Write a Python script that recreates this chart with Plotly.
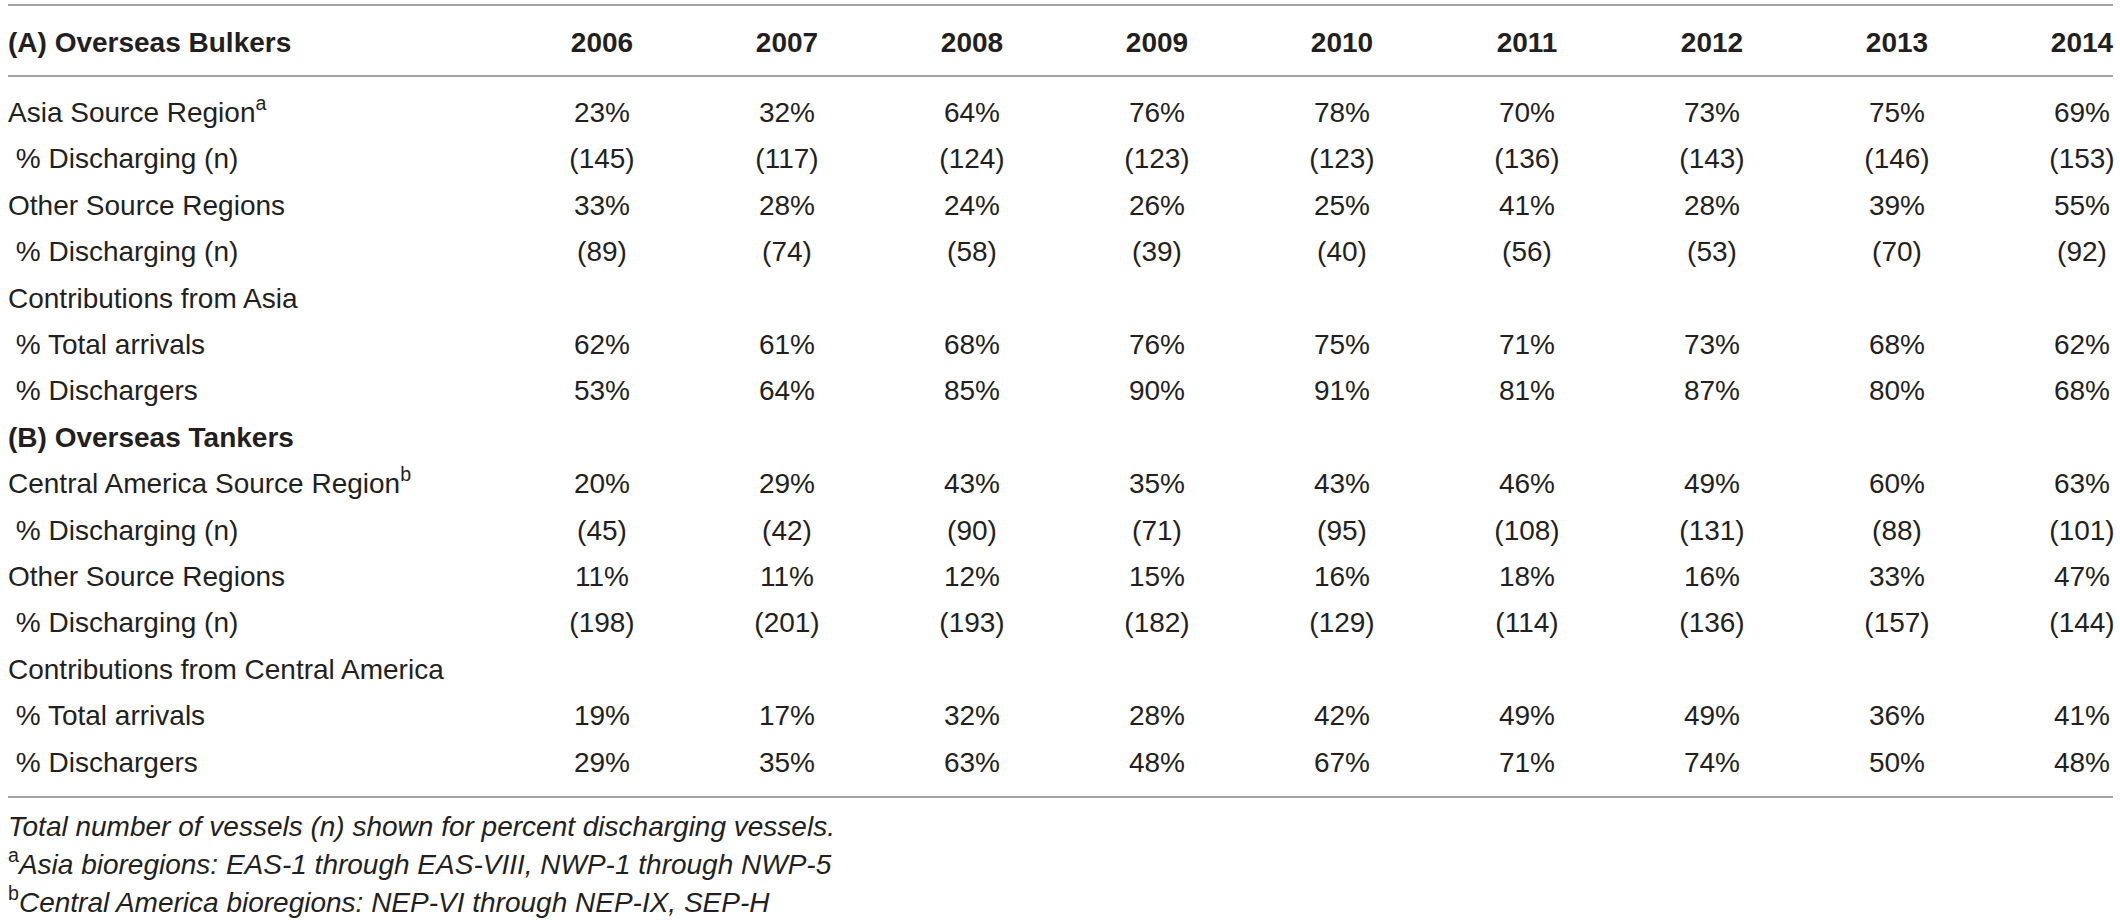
#!/usr/bin/env python3

"""plot.py: ballast discharge table for overseas bulkers and tankers, 2006-2014."""

import plotly.graph_objects as go

years = [2006, 2007, 2008, 2009, 2010, 2011, 2012, 2013, 2014]

# (A) Overseas Bulkers
asia_discharging_pct = [23, 32, 64, 76, 78, 70, 73, 75, 69]
asia_n = [145, 117, 124, 123, 123, 136, 143, 146, 153]
bulker_other_discharging_pct = [33, 28, 24, 26, 25, 41, 28, 39, 55]
bulker_other_n = [89, 74, 58, 39, 40, 56, 53, 70, 92]
asia_total_arrivals_pct = [62, 61, 68, 76, 75, 71, 73, 68, 62]
asia_dischargers_pct = [53, 64, 85, 90, 91, 81, 87, 80, 68]

# (B) Overseas Tankers
camerica_discharging_pct = [20, 29, 43, 35, 43, 46, 49, 60, 63]
camerica_n = [45, 42, 90, 71, 95, 108, 131, 88, 101]
tanker_other_discharging_pct = [11, 11, 12, 15, 16, 18, 16, 33, 47]
tanker_other_n = [198, 201, 193, 182, 129, 114, 136, 157, 144]
camerica_total_arrivals_pct = [19, 17, 32, 28, 42, 49, 49, 36, 41]
camerica_dischargers_pct = [29, 35, 63, 48, 67, 71, 74, 50, 48]

first_header = "(A) Overseas Bulkers"
row_labels = [
    "Asia Source Region<sup>a</sup>",
    "\u00a0% Discharging (n)",
    "Other Source Regions",
    "\u00a0% Discharging (n)",
    "Contributions from Asia",
    "\u00a0% Total arrivals",
    "\u00a0% Dischargers",
    "<b>(B) Overseas Tankers</b>",
    "Central America Source Region<sup>b</sup>",
    "\u00a0% Discharging (n)",
    "Other Source Regions",
    "\u00a0% Discharging (n)",
    "Contributions from Central America",
    "\u00a0% Total arrivals",
    "\u00a0% Dischargers",
]
footnotes = [
    "<i>Total number of vessels (n) shown for percent discharging vessels.</i>",
    "<sup>a</sup><i>Asia bioregions: EAS-1 through EAS-VIII, NWP-1 through NWP-5</i>",
    "<sup>b</sup><i>Central America bioregions: NEP-VI through NEP-IX, SEP-H</i>",
]


def pct(vals):
    return ["%d%%" % v for v in vals]


def count(vals):
    return ["(%d)" % v for v in vals]


row_cells = [
    pct(asia_discharging_pct),
    count(asia_n),
    pct(bulker_other_discharging_pct),
    count(bulker_other_n),
    None,
    pct(asia_total_arrivals_pct),
    pct(asia_dischargers_pct),
    None,
    pct(camerica_discharging_pct),
    count(camerica_n),
    pct(tanker_other_discharging_pct),
    count(tanker_other_n),
    None,
    pct(camerica_total_arrivals_pct),
    pct(camerica_dischargers_pct),
]

# page geometry (pixels): column centres, row pitch, rules
W, H = 2120, 920
col0_px, col_step = 602, 185
row0_px, row_step = 115, 46.4
label_px = 8
header_px = 45


def xv(px):
    return (px - col0_px) / col_step


def yv(px):
    return (px - row0_px) / row_step


ink = "#231f20"
rule = "#a3a3a3"
font = "Liberation Sans, Arial, sans-serif"
fs = 28

cell_x, cell_y, cell_t = [], [], []
for r, cells in enumerate(row_cells):
    if cells is None:
        continue
    for k, t in enumerate(cells):
        cell_x.append(k)
        cell_y.append(r)
        cell_t.append(t)

fig = go.Figure()

# year header
fig.add_trace(go.Scatter(
    x=list(range(len(years))), y=[yv(header_px)] * len(years),
    text=["<b>%d</b>" % y for y in years], mode="text",
    textposition="middle center",
    textfont=dict(family=font, size=fs, color=ink),
    hoverinfo="skip", showlegend=False))

fig.add_trace(go.Scatter(
    x=[xv(label_px)], y=[yv(header_px)],
    text=["<b>%s</b>" % first_header], mode="text",
    textposition="middle right",
    textfont=dict(family=font, size=fs, color=ink),
    hoverinfo="skip", showlegend=False))

# row labels
fig.add_trace(go.Scatter(
    x=[xv(label_px)] * len(row_labels), y=list(range(len(row_labels))),
    text=row_labels, mode="text", textposition="middle right",
    textfont=dict(family=font, size=fs, color=ink),
    hoverinfo="skip", showlegend=False))

# values
fig.add_trace(go.Scatter(
    x=cell_x, y=cell_y, text=cell_t, mode="text",
    textposition="middle center",
    textfont=dict(family=font, size=fs, color=ink),
    hoverinfo="skip", showlegend=False))

# footnotes
foot_px = [829, 867, 905]
fig.add_trace(go.Scatter(
    x=[xv(label_px)] * len(footnotes), y=[yv(p) for p in foot_px],
    text=footnotes, mode="text", textposition="middle right",
    textfont=dict(family=font, size=fs, color=ink),
    hoverinfo="skip", showlegend=False))

for p in [5, 76, 797]:
    fig.add_shape(type="line", xref="paper", yref="paper",
                  x0=label_px / W, x1=2113 / W,
                  y0=1 - p / H, y1=1 - p / H,
                  line=dict(color=rule, width=2))

fig.update_layout(
    width=W, height=H,
    margin=dict(l=0, r=0, t=0, b=0),
    paper_bgcolor="white", plot_bgcolor="white",
    xaxis=dict(range=[xv(0), xv(W)], visible=False, fixedrange=True),
    yaxis=dict(range=[yv(H), yv(0)], visible=False, fixedrange=True),
)

# page body has a default 8px margin; drop it so the table sits flush
fig.write_html("out.html", config={"displayModeBar": False},
               post_script="document.body.style.margin='0';")
